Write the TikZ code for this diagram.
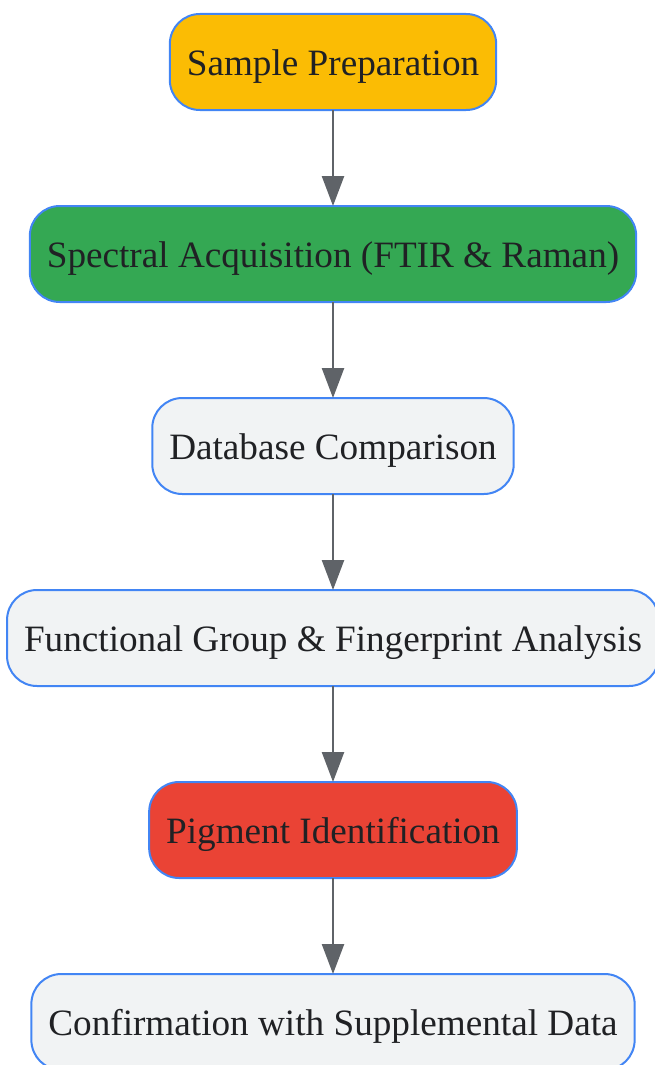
\documentclass[tikz,border=0pt]{standalone}
\usepackage{fontspec}
\setmainfont{Liberation Serif}
\usetikzlibrary{positioning, arrows.meta}

\definecolor{borderblue}{HTML}{4285F4}
\definecolor{stepyellow}{HTML}{FBBC04}
\definecolor{stepgreen}{HTML}{34A853}
\definecolor{stepgrey}{HTML}{F1F3F4}
\definecolor{stepred}{HTML}{EA4335}
\definecolor{arrowgrey}{HTML}{5F6368}
\definecolor{textdark}{HTML}{202124}

\tikzset{
    stage/.style={draw=borderblue, line width=2pt, rounded corners=30pt,
        minimum height=96pt, inner xsep=17pt, outer sep=0pt,
        text height=27pt, text depth=1pt,
        text=textdark, font=\fontsize{37.2}{44}\selectfont},
    flow/.style={draw=arrowgrey, line width=2.5pt,
        -{Triangle[length=30pt,width=22pt]}}
}

\begin{document}
\begin{tikzpicture}[node distance=96pt]

    \useasboundingbox (0,0) rectangle (655pt,-1065pt);
    % the stages, top to bottom
    \node[stage, fill=stepyellow] (prep) at (333pt,-62pt) {Sample Preparation};
    \node[stage, fill=stepgreen, below=of prep] (acq) {Spectral Acquisition (FTIR \& Raman)};
    \node[stage, fill=stepgrey, below=of acq] (db) {Database Comparison};
    \node[stage, fill=stepgrey, below=of db] (fga) {Functional Group \& Fingerprint Analysis};
    \node[stage, fill=stepred, below=of fga] (pig) {Pigment Identification};
    \node[stage, fill=stepgrey, below=of pig] (conf) {Confirmation with Supplemental Data};

    \draw[flow] (prep) -- (acq);
    \draw[flow] (acq) -- (db);
    \draw[flow] (db) -- (fga);
    \draw[flow] (fga) -- (pig);
    \draw[flow] (pig) -- (conf);

\end{tikzpicture}
\end{document}
